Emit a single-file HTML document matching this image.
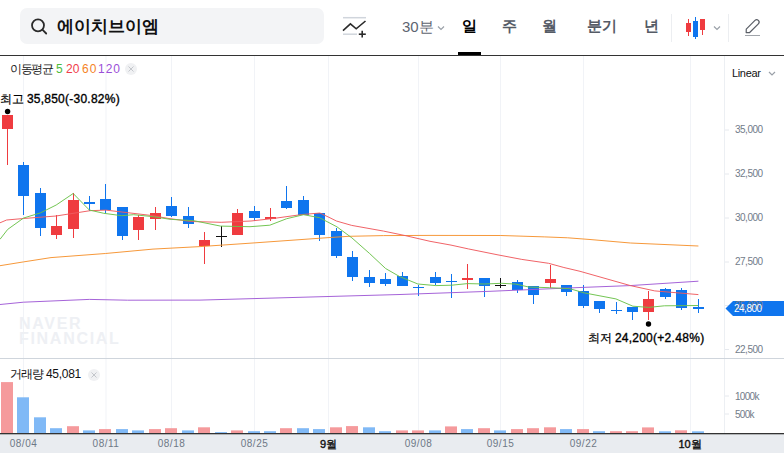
<!DOCTYPE html>
<html><head><meta charset="utf-8"><style>
html,body{margin:0;padding:0;width:784px;height:453px;overflow:hidden;background:#fff;font-family:"Liberation Sans",sans-serif;}
.t{position:absolute;white-space:nowrap;line-height:14px;}
</style></head><body>
<div style="position:absolute;left:20px;top:8px;width:304px;height:36px;background:#f3f4f6;border-radius:7px"></div>
<svg width="784" height="56" style="position:absolute;left:0;top:0">
 <circle cx="38" cy="25.3" r="6" fill="none" stroke="#2a2a2a" stroke-width="1.8"/>
 <line x1="42.4" y1="29.7" x2="46.2" y2="33.5" stroke="#2a2a2a" stroke-width="1.8" stroke-linecap="round"/>
 <line x1="343" y1="17.7" x2="366" y2="17.7" stroke="#d0d5dc" stroke-width="1.5"/>
 <line x1="343" y1="34.2" x2="357" y2="34.2" stroke="#d0d5dc" stroke-width="1.5"/>
 <polyline points="343,30.6 350.4,23.9 356.2,28.8 365.5,21" fill="none" stroke="#2a2a2a" stroke-width="1.6"/>
 <line x1="362.2" y1="30.8" x2="362.2" y2="37.6" stroke="#2a2a2a" stroke-width="1.6"/>
 <line x1="358.8" y1="34.2" x2="365.8" y2="34.2" stroke="#2a2a2a" stroke-width="1.6"/>
 <polyline points="438,26.5 441,29.5 444,26.5" fill="none" stroke="#9aa0a8" stroke-width="1.2"/>
 <rect x="458" y="52" width="23" height="3" fill="#000"/>
 <line x1="671.5" y1="14" x2="671.5" y2="42" stroke="#eceef1" stroke-width="1"/>
 <line x1="728.5" y1="14" x2="728.5" y2="42" stroke="#eceef1" stroke-width="1"/>
 <rect x="688" y="19" width="1" height="17" fill="#ef3b3f"/><rect x="686" y="23" width="5" height="9" fill="#ef3b3f"/>
 <rect x="695" y="17" width="1" height="22" fill="#0f75ee"/><rect x="693" y="21" width="5" height="16" fill="#0f75ee"/>
 <rect x="702" y="19" width="1" height="16" fill="#ef3b3f"/><rect x="700" y="19" width="5" height="11" fill="#ef3b3f"/>
 <polyline points="714,26.5 717,29.5 720,26.5" fill="none" stroke="#9aa0a8" stroke-width="1.2"/>
 <g transform="translate(752.2,26.6) rotate(-45)"><path d="M-8.5,0 L-6,-2.4 L6.3,-2.4 A2.4,2.4 0 0 1 6.3,2.4 L-6,2.4 Z" fill="none" stroke="#5a5e66" stroke-width="1.2" stroke-linejoin="round"/></g>
 <line x1="745" y1="35.5" x2="760" y2="35.5" stroke="#a0a4aa" stroke-width="1"/>
 <rect x="0" y="55" width="784" height="1.5" fill="#333"/>
</svg>
<div class="t" style="left:57px;top:18px;font-size:17px;font-weight:bold;line-height:18px;color:#111">에이치브이엠</div>
<div class="t" style="left:402px;top:19.3px;font-size:15px;color:#5d6470;line-height:16px">30분</div>
<div class="t" style="left:462px;top:18px;font-size:15px;color:#000;font-weight:bold;line-height:16px">일</div>
<div class="t" style="left:502px;top:18px;font-size:15px;color:#555b66;font-weight:bold;line-height:16px">주</div>
<div class="t" style="left:542px;top:18px;font-size:15px;color:#555b66;font-weight:bold;line-height:16px">월</div>
<div class="t" style="left:587px;top:18px;font-size:15px;color:#555b66;font-weight:bold;line-height:16px">분기</div>
<div class="t" style="left:644px;top:18px;font-size:15px;color:#555b66;font-weight:bold;line-height:16px">년</div>
<svg width="784" height="453" style="position:absolute;left:0;top:0"><line x1="23.5" y1="56" x2="23.5" y2="433" stroke="#f1f3f7" stroke-width="1"/><line x1="106" y1="56" x2="106" y2="433" stroke="#f1f3f7" stroke-width="1"/><line x1="171.5" y1="56" x2="171.5" y2="433" stroke="#f1f3f7" stroke-width="1"/><line x1="254.5" y1="56" x2="254.5" y2="433" stroke="#f1f3f7" stroke-width="1"/><line x1="328.5" y1="56" x2="328.5" y2="433" stroke="#f1f3f7" stroke-width="1"/><line x1="418.5" y1="56" x2="418.5" y2="433" stroke="#f1f3f7" stroke-width="1"/><line x1="500.5" y1="56" x2="500.5" y2="433" stroke="#f1f3f7" stroke-width="1"/><line x1="583.5" y1="56" x2="583.5" y2="433" stroke="#f1f3f7" stroke-width="1"/><line x1="690.5" y1="56" x2="690.5" y2="433" stroke="#f1f3f7" stroke-width="1"/><line x1="724.5" y1="56" x2="724.5" y2="433" stroke="#eceff3" stroke-width="1"/><line x1="725" y1="130" x2="729" y2="130" stroke="#e6e9ee" stroke-width="1"/><line x1="725" y1="174" x2="729" y2="174" stroke="#e6e9ee" stroke-width="1"/><line x1="725" y1="218" x2="729" y2="218" stroke="#e6e9ee" stroke-width="1"/><line x1="725" y1="262" x2="729" y2="262" stroke="#e6e9ee" stroke-width="1"/><line x1="725" y1="305.5" x2="729" y2="305.5" stroke="#e6e9ee" stroke-width="1"/><line x1="725" y1="349.5" x2="729" y2="349.5" stroke="#e6e9ee" stroke-width="1"/><line x1="725" y1="396" x2="729" y2="396" stroke="#e6e9ee" stroke-width="1"/><line x1="725" y1="414" x2="729" y2="414" stroke="#e6e9ee" stroke-width="1"/><line x1="0" y1="358.5" x2="784" y2="358.5" stroke="#cfd5dc" stroke-width="1"/><rect x="7" y="115" width="1" height="50" fill="#ef3b3f"/><rect x="2" y="115" width="11" height="14" fill="#ef3b3f"/><rect x="23" y="162" width="1" height="53" fill="#0f75ee"/><rect x="18" y="165" width="11" height="31" fill="#0f75ee"/><rect x="40" y="188" width="1" height="48" fill="#0f75ee"/><rect x="35" y="193" width="11" height="35" fill="#0f75ee"/><rect x="56" y="215" width="1" height="24" fill="#ef3b3f"/><rect x="51" y="226" width="11" height="9" fill="#ef3b3f"/><rect x="73" y="193" width="1" height="45" fill="#ef3b3f"/><rect x="68" y="200" width="11" height="29" fill="#ef3b3f"/><rect x="89" y="196" width="1" height="15" fill="#0f75ee"/><rect x="84" y="202" width="11" height="2" fill="#0f75ee"/><rect x="105" y="184" width="1" height="29" fill="#0f75ee"/><rect x="100" y="199" width="11" height="11" fill="#0f75ee"/><rect x="122" y="207" width="1" height="33" fill="#0f75ee"/><rect x="117" y="207" width="11" height="29" fill="#0f75ee"/><rect x="138" y="215" width="1" height="25" fill="#ef3b3f"/><rect x="133" y="217" width="11" height="13" fill="#ef3b3f"/><rect x="155" y="207" width="1" height="23" fill="#ef3b3f"/><rect x="150" y="213" width="11" height="6" fill="#ef3b3f"/><rect x="171" y="197" width="1" height="20" fill="#0f75ee"/><rect x="166" y="206" width="11" height="10" fill="#0f75ee"/><rect x="188" y="207" width="1" height="21" fill="#0f75ee"/><rect x="183" y="216" width="11" height="8" fill="#0f75ee"/><rect x="204" y="232" width="1" height="32" fill="#ef3b3f"/><rect x="199" y="240" width="11" height="6" fill="#ef3b3f"/><rect x="221" y="226" width="1" height="21" fill="#111"/><rect x="216" y="236" width="11" height="1" fill="#111"/><rect x="237" y="209" width="1" height="26" fill="#ef3b3f"/><rect x="232" y="213" width="11" height="22" fill="#ef3b3f"/><rect x="254" y="206" width="1" height="15" fill="#0f75ee"/><rect x="249" y="211" width="11" height="7" fill="#0f75ee"/><rect x="270" y="208" width="1" height="13" fill="#ef3b3f"/><rect x="265" y="217" width="11" height="2" fill="#ef3b3f"/><rect x="286" y="186" width="1" height="23" fill="#0f75ee"/><rect x="281" y="201" width="11" height="7" fill="#0f75ee"/><rect x="303" y="196" width="1" height="19" fill="#0f75ee"/><rect x="298" y="200" width="11" height="15" fill="#0f75ee"/><rect x="319" y="213" width="1" height="28" fill="#0f75ee"/><rect x="314" y="213" width="11" height="22" fill="#0f75ee"/><rect x="336" y="228" width="1" height="30" fill="#0f75ee"/><rect x="331" y="231" width="11" height="25" fill="#0f75ee"/><rect x="352" y="251" width="1" height="30" fill="#0f75ee"/><rect x="347" y="257" width="11" height="20" fill="#0f75ee"/><rect x="369" y="270" width="1" height="17" fill="#0f75ee"/><rect x="364" y="277" width="11" height="6" fill="#0f75ee"/><rect x="385" y="273" width="1" height="13" fill="#0f75ee"/><rect x="380" y="279" width="11" height="5" fill="#0f75ee"/><rect x="402" y="272" width="1" height="14" fill="#0f75ee"/><rect x="397" y="276" width="11" height="10" fill="#0f75ee"/><rect x="418" y="285" width="1" height="11" fill="#0f75ee"/><rect x="413" y="287" width="11" height="1" fill="#0f75ee"/><rect x="435" y="272" width="1" height="13" fill="#0f75ee"/><rect x="430" y="277" width="11" height="6" fill="#0f75ee"/><rect x="451" y="274" width="1" height="24" fill="#0f75ee"/><rect x="446" y="281" width="11" height="1" fill="#0f75ee"/><rect x="467" y="264" width="1" height="25" fill="#ef3b3f"/><rect x="462" y="278" width="11" height="2" fill="#ef3b3f"/><rect x="484" y="278" width="1" height="19" fill="#0f75ee"/><rect x="479" y="278" width="11" height="8" fill="#0f75ee"/><rect x="500" y="278" width="1" height="10" fill="#111"/><rect x="495" y="285" width="11" height="1" fill="#111"/><rect x="517" y="280" width="1" height="13" fill="#0f75ee"/><rect x="512" y="282" width="11" height="8" fill="#0f75ee"/><rect x="533" y="286" width="1" height="18" fill="#0f75ee"/><rect x="528" y="286" width="11" height="9" fill="#0f75ee"/><rect x="550" y="265" width="1" height="23" fill="#ef3b3f"/><rect x="545" y="279" width="11" height="4" fill="#ef3b3f"/><rect x="566" y="285" width="1" height="11" fill="#0f75ee"/><rect x="561" y="285" width="11" height="7" fill="#0f75ee"/><rect x="583" y="285" width="1" height="23" fill="#0f75ee"/><rect x="578" y="291" width="11" height="15" fill="#0f75ee"/><rect x="599" y="301" width="1" height="12" fill="#0f75ee"/><rect x="594" y="301" width="11" height="8" fill="#0f75ee"/><rect x="616" y="302" width="1" height="12" fill="#0f75ee"/><rect x="611" y="310" width="11" height="1" fill="#0f75ee"/><rect x="632" y="307" width="1" height="13" fill="#0f75ee"/><rect x="627" y="307" width="11" height="5" fill="#0f75ee"/><rect x="648" y="291" width="1" height="29" fill="#ef3b3f"/><rect x="643" y="299" width="11" height="13" fill="#ef3b3f"/><rect x="665" y="288" width="1" height="11" fill="#0f75ee"/><rect x="660" y="289" width="11" height="8" fill="#0f75ee"/><rect x="681" y="288" width="1" height="22" fill="#0f75ee"/><rect x="676" y="290" width="11" height="18" fill="#0f75ee"/><rect x="698" y="299" width="1" height="14" fill="#0f75ee"/><rect x="693" y="307" width="11" height="2" fill="#0f75ee"/><polyline fill="none" stroke="#a05bd6" stroke-width="1.0" stroke-opacity="0.95" stroke-linejoin="round" points="0.0,304.5 23.5,302.2 89.3,299.4 127.6,300.2 200.0,300.1 400.0,294.5 490.0,291.3 580.0,287.5 630.0,285.6 698.4,281.2"/><polyline fill="none" stroke="#f5922f" stroke-width="1.0" stroke-opacity="0.95" stroke-linejoin="round" points="0.0,265.7 23.5,261.9 51.0,257.6 105.4,253.5 153.0,249.1 200.0,246.6 250.0,243.2 330.0,237.5 349.0,236.3 383.6,235.6 430.0,235.4 500.8,235.5 544.8,236.9 567.7,237.8 590.0,239.5 630.4,243.0 698.4,246.0"/><polyline fill="none" stroke="#ef5b5f" stroke-width="1.0" stroke-opacity="0.95" stroke-linejoin="round" points="0.0,222.8 6.6,220.0 23.6,218.5 56.0,216.0 90.0,210.7 105.8,210.1 127.7,212.7 150.0,215.3 170.0,218.7 191.3,221.5 221.2,222.3 251.0,221.0 271.7,218.7 301.5,214.6 319.9,213.0 330.0,217.8 336.4,221.0 351.7,225.4 383.6,231.1 405.3,235.6 430.0,241.3 451.0,245.1 468.3,248.9 497.0,254.7 521.8,259.4 548.6,263.3 563.9,267.5 580.0,271.3 630.4,285.6 654.7,290.9 698.4,294.6"/><polyline fill="none" stroke="#6cc24a" stroke-width="1.0" stroke-opacity="0.95" stroke-linejoin="round" points="0.0,239.3 7.7,229.4 23.6,218.0 40.4,212.9 56.2,205.0 73.2,193.5 89.3,210.0 103.8,213.3 121.7,215.7 133.6,214.7 153.5,216.7 170.0,219.3 193.8,220.7 220.6,226.1 250.0,226.7 269.8,225.2 286.7,218.7 303.6,214.7 319.5,217.7 336.9,226.8 351.8,237.8 369.7,253.6 385.6,268.5 399.5,276.5 417.9,284.0 435.8,285.6 451.7,285.2 467.6,283.6 484.5,284.0 501.8,283.3 515.7,284.1 528.7,287.0 549.5,287.7 569.4,288.6 584.3,292.9 615.9,298.9 632.9,306.2 648.6,307.4 664.4,305.8 698.4,305.5"/><rect x="1" y="382.1" width="12" height="50.9" fill="#f59a9c"/><rect x="17" y="397.3" width="12" height="35.7" fill="#80b9f6"/><rect x="34" y="417.3" width="12" height="15.7" fill="#80b9f6"/><rect x="50" y="428.2" width="12" height="4.8" fill="#80b9f6"/><rect x="67" y="426.2" width="12" height="6.8" fill="#f59a9c"/><rect x="83" y="430.4" width="12" height="2.6" fill="#80b9f6"/><rect x="99" y="429.1" width="12" height="3.9" fill="#f59a9c"/><rect x="116" y="429.1" width="12" height="3.9" fill="#80b9f6"/><rect x="132" y="430.4" width="12" height="2.6" fill="#80b9f6"/><rect x="149" y="429.1" width="12" height="3.9" fill="#f59a9c"/><rect x="165" y="428.2" width="12" height="4.8" fill="#f59a9c"/><rect x="182" y="430.4" width="12" height="2.6" fill="#80b9f6"/><rect x="198" y="427.3" width="12" height="5.7" fill="#f59a9c"/><rect x="215" y="432.1" width="12" height="0.9" fill="#80b9f6"/><rect x="231" y="430.4" width="12" height="2.6" fill="#f59a9c"/><rect x="248" y="431.2" width="12" height="1.8" fill="#80b9f6"/><rect x="264" y="431.2" width="12" height="1.8" fill="#80b9f6"/><rect x="280" y="428.2" width="12" height="4.8" fill="#f59a9c"/><rect x="297" y="428.2" width="12" height="4.8" fill="#80b9f6"/><rect x="313" y="429.1" width="12" height="3.9" fill="#80b9f6"/><rect x="330" y="427.3" width="12" height="5.7" fill="#f59a9c"/><rect x="346" y="426.1" width="12" height="6.9" fill="#f59a9c"/><rect x="363" y="427.3" width="12" height="5.7" fill="#80b9f6"/><rect x="379" y="431.2" width="12" height="1.8" fill="#80b9f6"/><rect x="396" y="430.4" width="12" height="2.6" fill="#f59a9c"/><rect x="412" y="430.4" width="12" height="2.6" fill="#f59a9c"/><rect x="429" y="430.4" width="12" height="2.6" fill="#80b9f6"/><rect x="445" y="426.4" width="12" height="6.6" fill="#f59a9c"/><rect x="461" y="429.1" width="12" height="3.9" fill="#80b9f6"/><rect x="478" y="428.2" width="12" height="4.8" fill="#f59a9c"/><rect x="494" y="430.4" width="12" height="2.6" fill="#80b9f6"/><rect x="511" y="429.1" width="12" height="3.9" fill="#f59a9c"/><rect x="527" y="428.2" width="12" height="4.8" fill="#f59a9c"/><rect x="544" y="427.3" width="12" height="5.7" fill="#f59a9c"/><rect x="560" y="429.1" width="12" height="3.9" fill="#80b9f6"/><rect x="577" y="429.1" width="12" height="3.9" fill="#f59a9c"/><rect x="593" y="431.2" width="12" height="1.8" fill="#80b9f6"/><rect x="610" y="431.2" width="12" height="1.8" fill="#f59a9c"/><rect x="626" y="431.2" width="12" height="1.8" fill="#f59a9c"/><rect x="642" y="427.4" width="12" height="5.6" fill="#f59a9c"/><rect x="659" y="431.3" width="12" height="1.7" fill="#80b9f6"/><rect x="675" y="430.3" width="12" height="2.7" fill="#f59a9c"/><rect x="692" y="431.3" width="12" height="1.7" fill="#80b9f6"/><circle cx="7.6" cy="111.5" r="2.7" fill="#000"/><circle cx="648.5" cy="324" r="2.7" fill="#000"/><rect x="0" y="434" width="784" height="19" fill="#e9ecf0"/><rect x="0" y="433" width="784" height="1.3" fill="#333"/><polygon points="725.5,308.5 733,301 784,301 784,316 733,316" fill="#0f75ee"/></svg>
<div class="t" style="left:10px;top:62px;font-size:12px;color:#222;letter-spacing:-1.4px">이동평균</div>
<div class="t" style="left:56px;top:62px;font-size:12px;color:#4cbb3c">5</div>
<div class="t" style="left:66px;top:62px;font-size:12px;color:#f03c4a">20</div>
<div class="t" style="left:82px;top:62px;font-size:12px;color:#f5831f;letter-spacing:1px">60</div>
<div class="t" style="left:98px;top:62px;font-size:12px;color:#9b4fd8;letter-spacing:1px">120</div>
<svg width="14" height="14" style="position:absolute;left:124px;top:62px"><circle cx="7" cy="7" r="6" fill="#f0f1f3"/><path d="M4.5,4.5 L9.5,9.5 M9.5,4.5 L4.5,9.5" stroke="#c3c6cb" stroke-width="1"/></svg>
<div class="t" style="left:0px;top:92px;font-size:12px;color:#000;-webkit-text-stroke:0.2px #000">최고</div><div class="t" style="left:27px;top:92px;font-size:12px;color:#000;font-weight:normal;-webkit-text-stroke:0.35px #000;letter-spacing:0.2px">35,850</div><div class="t" style="left:65px;top:92px;font-size:12px;color:#000;font-weight:normal;-webkit-text-stroke:0.35px #000;letter-spacing:0.25px">(-30.82%)</div>
<div class="t" style="left:588px;top:331px;font-size:12px;color:#000;-webkit-text-stroke:0.2px #000">최저</div><div class="t" style="left:615px;top:331px;font-size:12px;color:#000;font-weight:normal;-webkit-text-stroke:0.35px #000;letter-spacing:0.2px">24,200</div><div class="t" style="left:653px;top:331px;font-size:12px;color:#000;font-weight:normal;-webkit-text-stroke:0.35px #000;letter-spacing:0.3px">(+2.48%)</div>
<div class="t" style="left:19px;top:317px;font-size:16px;font-weight:bold;color:#eef0f4;line-height:14.5px;letter-spacing:1.7px">NAVER<br>FINANCIAL</div>
<div class="t" style="left:10px;top:367px;font-size:12px;color:#111;letter-spacing:-1px">거래량</div><div class="t" style="left:46px;top:367px;font-size:12px;color:#111;letter-spacing:-0.3px">45,081</div>
<svg width="14" height="14" style="position:absolute;left:87px;top:368px"><circle cx="7" cy="7" r="6" fill="#f0f1f3"/><path d="M4.5,4.5 L9.5,9.5 M9.5,4.5 L4.5,9.5" stroke="#c3c6cb" stroke-width="1"/></svg>
<svg width="12" height="10" style="position:absolute;left:766px;top:69px"><polyline points="3,3 6,6 9,3" fill="none" stroke="#9aa0a8" stroke-width="1.2"/></svg>
<div class="t" style="left:735px;top:123px;font-size:10px;color:#727c89;font-weight:normal;letter-spacing:-0.5px">35,000</div><div class="t" style="left:735px;top:167px;font-size:10px;color:#727c89;font-weight:normal;letter-spacing:-0.5px">32,500</div><div class="t" style="left:735px;top:211px;font-size:10px;color:#727c89;font-weight:normal;letter-spacing:-0.5px">30,000</div><div class="t" style="left:735px;top:255px;font-size:10px;color:#727c89;font-weight:normal;letter-spacing:-0.5px">27,500</div><div class="t" style="left:735px;top:298.5px;font-size:10px;color:#727c89;font-weight:normal;letter-spacing:-0.5px">25,000</div><div class="t" style="left:735px;top:342.5px;font-size:10px;color:#727c89;font-weight:normal;letter-spacing:-0.5px">22,500</div><div class="t" style="left:735px;top:389.7px;font-size:10px;color:#727c89;font-weight:normal;letter-spacing:-0.7px">1000k</div><div class="t" style="left:735px;top:407.8px;font-size:10px;color:#727c89;font-weight:normal;letter-spacing:-0.7px">500k</div><div class="t" style="left:734px;top:301.5px;font-size:10px;color:#fff;font-weight:normal;letter-spacing:-0.5px">24,800</div><div class="t" style="left:732px;top:66px;font-size:11px;color:#111;font-weight:normal;letter-spacing:-0.35px">Linear</div><div class="t" style="left:8.5px;top:437.3px;font-size:10px;color:#6e7886;font-weight:normal;width:30px;text-align:center;letter-spacing:0.5px">08/04</div><div class="t" style="left:91px;top:437.3px;font-size:10px;color:#6e7886;font-weight:normal;width:30px;text-align:center;letter-spacing:0.5px">08/11</div><div class="t" style="left:156.5px;top:437.3px;font-size:10px;color:#6e7886;font-weight:normal;width:30px;text-align:center;letter-spacing:0.5px">08/18</div><div class="t" style="left:239.5px;top:437.3px;font-size:10px;color:#6e7886;font-weight:normal;width:30px;text-align:center;letter-spacing:0.5px">08/25</div><div class="t" style="left:403.5px;top:437.3px;font-size:10px;color:#6e7886;font-weight:normal;width:30px;text-align:center;letter-spacing:0.5px">09/08</div><div class="t" style="left:485.5px;top:437.3px;font-size:10px;color:#6e7886;font-weight:normal;width:30px;text-align:center;letter-spacing:0.5px">09/15</div><div class="t" style="left:568.5px;top:437.3px;font-size:10px;color:#6e7886;font-weight:normal;width:30px;text-align:center;letter-spacing:0.5px">09/22</div><div class="t" style="left:314.5px;top:436.5px;font-size:11px;color:#111;font-weight:normal;width:28px;text-align:center;-webkit-text-stroke:0.4px #111">9월</div><div class="t" style="left:676px;top:436.5px;font-size:11px;color:#111;font-weight:normal;width:28px;text-align:center;-webkit-text-stroke:0.4px #111">10월</div>
</body></html>
